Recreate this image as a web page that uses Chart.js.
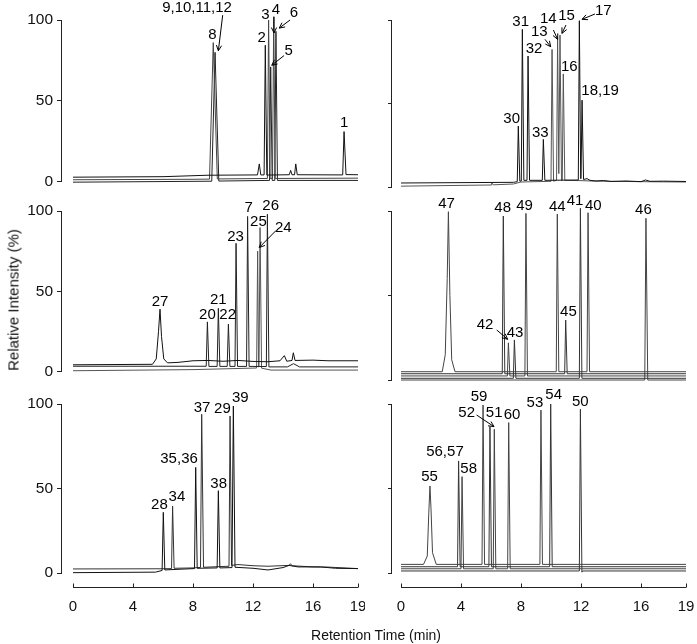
<!DOCTYPE html>
<html>
<head>
<meta charset="utf-8">
<script src="https://cdn.jsdelivr.net/npm/chart.js@4.4.1/dist/chart.umd.min.js"></script>
<style>
  body { margin: 0; background: #fff; width: 697px; height: 644px; position: relative; overflow: hidden;
         font-family: "Liberation Sans", Arial, sans-serif; }
  canvas { position: absolute; }
  .title { position: absolute; color: #111; white-space: nowrap; }
</style>
</head>
<body>
<canvas id="p1" width="365" height="195" style="left:0;top:0"></canvas>
<canvas id="p2" width="332" height="195" style="left:365px;top:0"></canvas>
<canvas id="p3" width="365" height="190" style="left:0;top:195px"></canvas>
<canvas id="p4" width="332" height="190" style="left:365px;top:195px"></canvas>
<canvas id="p5" width="365" height="259" style="left:0;top:385px"></canvas>
<canvas id="p6" width="332" height="259" style="left:365px;top:385px"></canvas>
<div class="title" style="font-size:15px;left:13px;top:300px;transform:translate(-50%,-50%) rotate(-90deg)">Relative Intensity (%)</div>
<div class="title" style="font-size:14px;left:376px;top:635px;transform:translate(-50%,-50%)">Retention Time (min)</div>
<script>
// axis ticks
const yTicks = [0, 50, 100];
const xTicks = [0, 4, 8, 12, 16, 19];

// chromatogram traces, [time (min), intensity (%)]
// panel 1 (top left)
const p1a = [[0,2.8],[6,3.1],[9,4.0],[12.3,4.2],[12.42,11],[12.52,4.2],[12.74,4.2],[12.82,84.4],[12.92,4.1],[14.42,4.3],[14.51,7],[14.6,4.3],[14.77,4.3],[14.85,11],[14.95,4.3],[17.98,4.2],[18.07,31],[18.2,4.4],[19,4.3]];
const p1b = [[0,1.2],[8,1.5],[9.1,1.6],[9.35,86],[9.62,1.7],[12.96,2.0],[13.04,100],[13.14,2.0],[13.3,2.0],[13.38,102],[13.48,2.0],[19,2.2]];
const p1c = [[0,-0.3],[9.25,0.3],[9.47,80],[9.72,0.4],[13.1,0.8],[13.18,71],[13.28,0.8],[13.45,0.8],[13.53,93],[13.63,0.8],[19,0.8]];
// panel 2 (top right)
const p2a = [[0,2.4],[7.5,2.8],[7.75,3.2],[7.82,36.5],[7.92,3.5],[8.02,3.6],[8.09,94.4],[8.19,4],[8.4,4],[8.47,78.4],[8.57,4],[9.42,4],[9.49,28.5],[9.59,4],[11.82,4.2],[11.89,99.6],[11.98,5],[12.0,5],[12.07,52],[12.17,4.5],[12.4,5],[12.6,4],[13,3.6],[13.5,3.9],[14,3.3],[15,3.6],[16,3.2],[16.3,4.2],[16.6,3.4],[17.5,3.5],[19,3.3]];
const p2b = [[0,0.5],[6,1.2],[6.05,2.5],[6.15,1.3],[7.5,1.8],[8,3],[10.0,3.4],[10.07,82.4],[10.17,3.5],[10.37,4],[10.44,89.6],[10.52,8],[10.6,91],[10.7,4],[10.75,4],[10.82,67.7],[10.92,4],[12,3.8],[13,3.5],[15,3.3],[17,3.1],[19,3.0]];
// panel 3 (middle left)
const p3a = [[0,4.3],[5.3,4.6],[5.55,8],[5.7,25],[5.8,38.9],[5.9,22],[6.05,8],[6.3,5.5],[7,5.8],[8,6.8],[9,7],[10,6.5],[11,7],[12,6.4],[13,6.2],[13.8,6.8],[14.09,10],[14.25,6.5],[14.6,7],[14.69,11.8],[14.8,7],[16,7.2],[17,6.8],[19,6.8]];
const p3b = [[0,3.4],[8.88,3.4],[8.96,31],[9.06,3.3],[9.61,3.3],[9.69,39.4],[9.79,3.3],[10.28,3.3],[10.36,29.6],[10.46,3.3],[10.8,3.3],[10.87,79.9],[10.97,3.3],[11.57,3.3],[11.64,96.6],[11.74,3.3],[12.89,3.2],[12.96,98],[13.06,3],[14.3,3],[14.7,5],[15.1,3],[19,3]];
const p3c = [[0,0.6],[8,1.3],[11,2],[12.24,2.3],[12.31,75],[12.37,3],[12.4,3],[12.47,89.7],[12.57,2.2],[13.2,1],[19,1]];
// panel 4 (middle right)
const p4a = [[0,4.9],[2.75,4.9],[2.95,15],[3.08,60],[3.16,99.6],[3.26,50],[3.38,12],[3.6,4.9],[10.35,4.9],[10.42,98.2],[10.52,4.9],[12.4,4.9],[12.47,99],[12.57,4.9],[19,4.9]];
const p4b = [[0,3.7],[6.75,3.7],[6.82,97],[6.92,3.7],[10.91,3.7],[10.98,35.5],[11.08,3.7],[19,3.7]];
const p4c = [[0,2.4],[7.09,2.4],[7.16,22],[7.26,2.4],[8.26,2.4],[8.33,98.6],[8.43,2.4],[19,2.4]];
const p4d = [[0,1.0],[7.49,1.0],[7.56,23.7],[7.66,1.0],[11.89,1.0],[11.96,101.6],[12.06,1.0],[19,1.0]];
const p4e = [[0,0],[16.25,0],[16.33,95.7],[16.45,0],[19,0]];
// panel 5 (bottom left)
const p5a = [[0,0.2],[5.5,0.5],[5.94,1.5],[6.02,35.9],[6.12,1.8],[7,2.2],[8.1,2.6],[8.18,62.5],[8.28,2.8],[9.61,3],[9.69,48.7],[9.79,3],[10.6,3.2],[10.69,98.8],[10.8,3.4],[12,2.8],[13,1.8],[14,3.2],[14.4,4.5],[15,3.6],[16.5,3.6],[17.5,2.8],[19,2.6]];
const p5b = [[0,2.4],[6,2.5],[6.57,2.6],[6.64,39.6],[6.74,2.8],[8,3],[8.5,3.3],[8.58,93.9],[8.7,3.4],[10.4,4],[10.47,92.9],[10.57,4.5],[11,5],[12,4.3],[13,4],[14.4,4.5],[14.5,5.5],[14.6,4.3],[16,3.6],[17,3.5],[19,2.6]];
// panel 6 (bottom right)
const p6a = [[0,5.1],[1.5,5.1],[1.75,10],[1.85,35],[1.93,51.5],[2.0,38],[2.1,12],[2.35,5.1],[5.4,5.1],[5.47,99.4],[5.57,5.1],[9.26,5.1],[9.33,96.4],[9.43,5.1],[19,5.1]];
const p6b = [[0,3.7],[3.77,3.7],[3.84,66.3],[3.94,3.7],[5.86,3.7],[5.93,86.6],[6.03,3.7],[9.91,3.7],[9.98,100],[10.08,3.7],[19,3.7]];
const p6c = [[0,2.5],[4.0,2.5],[4.07,57],[4.17,2.5],[6.15,2.5],[6.22,85],[6.32,2.5],[7.11,2.5],[7.18,89],[7.28,2.5],[19,2.5]];
const p6d = [[0,1.2],[11.89,1.2],[11.96,96.9],[12.06,0.5],[12.1,1.2],[19,1.2]];

// peak labels [text, time, intensity] and arrows [from t, from v, to t, to v]
const lab1 = [["9,10,11,12",8.27,107.6],["8",9.29,91],["2",12.58,89],["3",12.82,103],["4",13.53,106],["6",14.73,104.4],["5",14.38,81],["1",18.07,36.5]];
const arr1 = [[9.98,103,9.69,81],[13.4,102,13.4,92],[14.47,100,13.75,95],[14.07,78,13.25,72]];
const lab2 = [["31",7.98,99],["32",8.87,83],["30",7.38,41],["33",9.29,32.5],["13",9.22,92.6],["14",9.82,100.6],["15",11.04,102.6],["16",11.22,72],["17",13.49,105.6],["18,19",13.27,57.7]];
const arr2 = [[9.6,88.4,9.98,84],[10.16,94,10.44,88.4],[11.0,97,10.73,92],[12.93,103.6,12.07,100.4]];
const lab3 = [["27",5.8,43.4],["20",8.96,35.5],["21",9.69,45],["22",10.31,35.5],["23",10.84,83.8],["7",11.71,102.2],["25",12.36,93.3],["26",13.18,103],["24",14.02,89.2]];
const arr3 = [[13.53,87.8,12.42,77.3]];
const lab4 = [["47",3.04,104.5],["48",6.78,101.6],["49",8.24,103.2],["44",10.42,102.6],["41",11.6,106.1],["40",12.82,103.2],["46",16.16,100.6],["42",5.6,32.5],["43",7.6,28],["45",11.16,40.4]];
const arr4 = [[6.38,29.6,7.11,24.1]];
const lab5 = [["28",5.76,40.6],["34",6.93,45.2],["35,36",7.07,67.5],["37",8.6,98],["38",9.71,53],["29",9.96,97.2],["39",11.15,103.4]];
const arr5 = [];
const lab6 = [["55",1.9,56.6],["56,57",2.93,71.8],["58",4.51,61.4],["59",5.2,104.3],["52",4.38,95],["51",6.21,95],["60",7.4,93.5],["53",8.93,100.8],["54",10.18,105.3],["50",11.95,101.4]];
const arr6 = [[5.04,93.5,6.2,86.6]];

const FONT = '"Liberation Sans", Arial, sans-serif';

// peak labels, arrows and the detached time axis
const annotate = {
    id: 'annotate',
    afterDatasetsDraw(chart, args, opts) {
        const ctx = chart.ctx;
        const x = chart.scales.x, y = chart.scales.y;
        ctx.save();
        ctx.fillStyle = '#000';
        ctx.strokeStyle = '#000';
        ctx.lineWidth = 1;
        ctx.font = '15px ' + FONT;
        ctx.textAlign = 'center';
        ctx.textBaseline = 'middle';
        opts.labels.forEach(([txt, t, v]) => ctx.fillText(txt, x.getPixelForValue(t), y.getPixelForValue(v)));
        opts.arrows.forEach(([t1, v1, t2, v2]) => {
            const x1 = x.getPixelForValue(t1), y1 = y.getPixelForValue(v1);
            const x2 = x.getPixelForValue(t2), y2 = y.getPixelForValue(v2);
            const a = Math.atan2(y2 - y1, x2 - x1);
            ctx.beginPath();
            ctx.moveTo(x1, y1);
            ctx.lineTo(x2, y2);
            ctx.moveTo(x2 - 6 * Math.cos(a - 0.45), y2 - 6 * Math.sin(a - 0.45));
            ctx.lineTo(x2, y2);
            ctx.lineTo(x2 - 6 * Math.cos(a + 0.45), y2 - 6 * Math.sin(a + 0.45));
            ctx.stroke();
        });
        if (opts.xAxis) {
            const yy = Math.round(chart.chartArea.bottom + 14) + 0.5;
            ctx.strokeStyle = '#222';
            ctx.beginPath();
            ctx.moveTo(x.getPixelForValue(xTicks[0]), yy);
            ctx.lineTo(x.getPixelForValue(xTicks[xTicks.length - 1]), yy);
            xTicks.forEach(t => {
                const px = Math.round(x.getPixelForValue(t)) + 0.5;
                ctx.moveTo(px, yy);
                ctx.lineTo(px, yy - 4);
            });
            ctx.stroke();
            ctx.font = '15px ' + FONT;
            ctx.fillStyle = '#111';
            xTicks.forEach(t => ctx.fillText(String(t), x.getPixelForValue(t), yy + 19));
        }
        ctx.restore();
    }
};

function makePanel(id, traces, labels, arrows, left, pad, xAxis) {
    new Chart(document.getElementById(id), {
        type: 'line',
        data: {
            datasets: traces.map(([pts, col]) => ({
                data: pts.map(([t, v]) => ({ x: t, y: v })),
                borderColor: col,
                borderWidth: 1,
                pointRadius: 0,
                tension: 0,
                fill: false,
                clip: false
            }))
        },
        options: {
            responsive: false,
            animation: false,
            layout: { padding: pad },
            plugins: {
                legend: { display: false },
                tooltip: { enabled: false },
                annotate: { labels: labels, arrows: arrows, xAxis: xAxis }
            },
            scales: {
                x: { type: 'linear', min: left ? -0.8 : -0.667, max: 19, display: false },
                y: {
                    min: 0, max: 100,
                    afterBuildTicks: s => { s.ticks = yTicks.map(v => ({ value: v })); },
                    afterFit: s => { s.width = left ? 61 : 26; },
                    border: { display: true, color: '#222', width: 1 },
                    grid: { drawOnChartArea: false, tickLength: left ? 4 : 3, color: '#222' },
                    ticks: { display: left, padding: 4, color: '#111', font: { size: 15.5, family: FONT } }
                }
            }
        },
        plugins: [annotate]
    });
}

document.addEventListener('DOMContentLoaded', () => {
    makePanel('p1', [[p1a, '#111'], [p1b, '#444'], [p1c, '#222']], lab1, arr1, true, { top: 20, bottom: 8, right: 7, left: 0 }, false);
    makePanel('p2', [[p2a, '#111'], [p2b, '#555']], lab2, arr2, false, { top: 20, bottom: 8, right: 11, left: 0 }, false);
    makePanel('p3', [[p3a, '#111'], [p3b, '#222'], [p3c, '#555']], lab3, arr3, true, { top: 16, bottom: 5, right: 7, left: 0 }, false);
    makePanel('p4', [[p4a, '#444'], [p4b, '#333'], [p4c, '#444'], [p4d, '#333'], [p4e, '#444']], lab4, arr4, false, { top: 16, bottom: 5, right: 11, left: 0 }, false);
    makePanel('p5', [[p5a, '#111'], [p5b, '#333']], lab5, arr5, true, { top: 19, bottom: 71, right: 7, left: 0 }, true);
    makePanel('p6', [[p6a, '#444'], [p6b, '#333'], [p6c, '#444'], [p6d, '#333']], lab6, arr6, false, { top: 19, bottom: 71, right: 11, left: 0 }, true);
});
</script>
</body>
</html>
